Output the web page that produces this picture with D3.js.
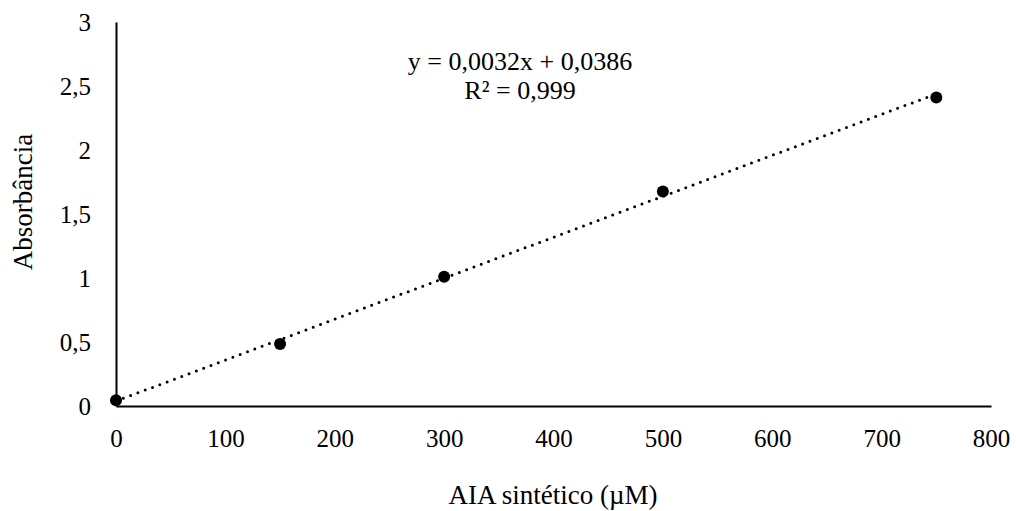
<!DOCTYPE html>
<html><head><meta charset="utf-8">
<script src="https://cdn.jsdelivr.net/npm/d3@7"></script>
<style>body{margin:0;background:#fff}svg{display:block}</style>
</head><body>
<svg id="c" width="1016" height="511"></svg>
<script>
const concentrations = [0, 150, 300, 500, 750];
const absorbance = [0.045, 0.485, 1.01, 1.675, 2.41];
const xTicks = [0, 100, 200, 300, 400, 500, 600, 700, 800];
const yTicks = [0, 0.5, 1, 1.5, 2, 2.5, 3];
const slope = 0.0032, intercept = 0.0386;
const equationLines = ["y = 0,0032x + 0,0386", "R² = 0,999"];
const xTitle = "AIA sintético (µM)";
const yTitle = "Absorbância";

const FONT = "'Liberation Serif', 'Times New Roman', Times, serif";
const svg = d3.select("#c");
const x = d3.scaleLinear().domain([0, 800]).range([116, 991]);
const y = d3.scaleLinear().domain([0, 3]).range([406, 22]);
const fmt = v => String(v).replace(".", ",");

const xa = svg.append("g").attr("transform", "translate(0,406)")
  .call(d3.axisBottom(x).tickValues(xTicks).tickSize(0).tickPadding(23).tickFormat(fmt));
const ya = svg.append("g").attr("transform", "translate(116,0)")
  .call(d3.axisLeft(y).tickValues(yTicks).tickSize(0).tickPadding(25).tickFormat(fmt));
[xa, ya].forEach(a => {
  a.attr("font-family", FONT).attr("font-size", 25);
  a.select(".domain").attr("stroke", "#000").attr("stroke-width", 2);
  a.selectAll("text").style("font-family", FONT).style("font-size", "25px").attr("fill", "#000");
});

// trendline
const tl = [0, 750];
svg.append("line")
  .attr("x1", x(tl[0])).attr("y1", y(slope * tl[0] + intercept))
  .attr("x2", x(tl[1])).attr("y2", y(slope * tl[1] + intercept))
  .attr("stroke", "#000").attr("stroke-width", 3)
  .attr("stroke-dasharray", "0 7.8").attr("stroke-linecap", "round");

svg.selectAll("circle.pt").data(concentrations).enter().append("circle")
  .attr("class", "pt")
  .attr("cx", d => x(d)).attr("cy", (d, i) => y(absorbance[i]))
  .attr("r", 6).attr("fill", "#000");

svg.selectAll("text.eq").data(equationLines).enter().append("text")
  .attr("class", "eq").attr("x", 520).attr("y", (d, i) => 70 + i * 29)
  .attr("text-anchor", "middle").style("font-family", FONT).style("font-size", "26px").text(d => d);

svg.append("text").attr("x", 553).attr("y", 504).attr("text-anchor", "middle")
  .style("font-family", FONT).style("font-size", "27px").text(xTitle);
svg.append("text").attr("transform", "translate(32,202) rotate(-90)").attr("text-anchor", "middle")
  .style("font-family", FONT).style("font-size", "27px").text(yTitle);
</script>
</body></html>
